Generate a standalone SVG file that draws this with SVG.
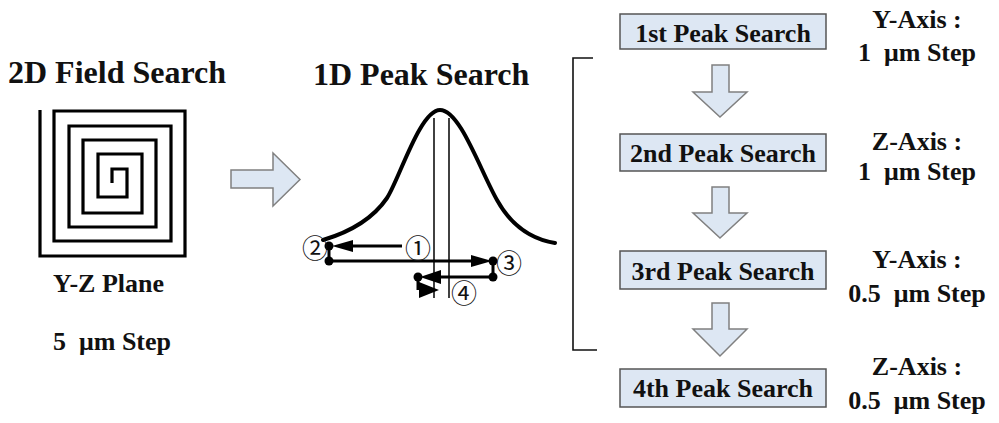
<svg xmlns="http://www.w3.org/2000/svg" width="999" height="423" viewBox="0 0 999 423">
<defs>
<style>
.t{font-family:"Liberation Serif","Times New Roman",serif;font-weight:bold;fill:#111;white-space:pre}
.title{font-size:32px}
.lbl{font-size:26px}
.box{fill:#dde7f3;stroke:#555;stroke-width:1.5}
.blk{fill:#dde7f3;stroke:#808080;stroke-width:1.5;stroke-linejoin:miter}
.ln{fill:none;stroke:#000;stroke-width:3}
.thin{fill:none;stroke:#111;stroke-width:1.6}
.num{font-family:"Noto Sans CJK JP","DejaVu Sans",sans-serif;font-size:26px;fill:#111}
</style>
</defs>
<rect width="999" height="423" fill="#fff"/>

<g id="field-search">
<text class="t title" x="8" y="83">2D Field Search</text>
<path fill="none" stroke="#000" stroke-width="3.2" d="M40,110 V256 H185 V111 H54 V241 H171 V126 H69 V227 H156 V140 H83 V213 H142 V154 H98 V197 H127 V169 H112 V183"/>
<text class="t lbl" x="53" y="292">Y-Z Plane</text>
<text class="t lbl" x="53" y="350">5  μm Step</text>
</g>

<g id="connectors">
<path class="blk" d="M231,170 H273 V153 L300,179.5 L273,206 V188 H231 Z"/>
<path class="blk" d="M712,65 H729 V92 H747 L720,117 L693,92 H712 Z"/>
<path class="blk" d="M712,187 H729 V213 H747 L720,238 L693,213 H712 Z"/>
<path class="blk" d="M712,303 H729 V329 H747 L720,356 L693,329 H712 Z"/>
<path class="thin" d="M593,58 H573 V350 H597"/>
</g>

<g id="peak-search">
<text class="t title" x="313" y="85">1D Peak Search</text>
<path fill="none" stroke="#000" stroke-width="4" stroke-linecap="round" d="M323,240 C350,232 372,220 387,198 C399,180 420,110 440,110 C460,110 480,170 497,200 C507,218 525,238 555,243"/>
<line class="thin" x1="434" y1="118" x2="434" y2="298"/>
<line class="thin" x1="449" y1="118" x2="449" y2="298"/>
<!-- step 1 -->
<line class="ln" x1="402" y1="246" x2="345" y2="246"/>
<polygon points="332,246 353,240 353,252" fill="#000"/>
<circle cx="329" cy="246" r="4.5" fill="#000"/>
<!-- step 2 -->
<line class="ln" x1="329" y1="246" x2="329" y2="261"/>
<circle cx="329" cy="261" r="4.5" fill="#000"/>
<line class="ln" x1="329" y1="261" x2="478" y2="261"/>
<polygon points="492,261 471,255 471,267" fill="#000"/>
<circle cx="493" cy="261" r="4.5" fill="#000"/>
<!-- step 3 -->
<line class="ln" x1="493" y1="261" x2="493" y2="277"/>
<circle cx="493" cy="277" r="4.5" fill="#000"/>
<line class="ln" x1="493" y1="277" x2="432" y2="277"/>
<polygon points="420,277 441,270 441,284" fill="#000"/>
<circle cx="418" cy="277" r="4.5" fill="#000"/>
<!-- step 4 -->
<line class="ln" x1="418" y1="277" x2="418" y2="290"/>
<polygon points="439,290 419,282 419,298" fill="#000"/>
<text class="num" x="315" y="246" text-anchor="middle" dominant-baseline="central">②</text>
<text class="num" x="418" y="246" text-anchor="middle" dominant-baseline="central">①</text>
<text class="num" x="509" y="261" text-anchor="middle" dominant-baseline="central">③</text>
<text class="num" x="464" y="291" text-anchor="middle" dominant-baseline="central">④</text>
</g>

<g id="peak1">
<rect class="box" x="620" y="14" width="206" height="35"/>
<text class="t lbl" x="723" y="42" text-anchor="middle">1st Peak Search</text>
</g>
<g id="peak2">
<rect class="box" x="620" y="134" width="206" height="37"/>
<text class="t lbl" x="723" y="162" text-anchor="middle">2nd Peak Search</text>
</g>
<g id="peak3">
<rect class="box" x="620" y="251" width="206" height="38"/>
<text class="t lbl" x="723" y="280" text-anchor="middle">3rd Peak Search</text>
</g>
<g id="peak4">
<rect class="box" x="620" y="369" width="206" height="38"/>
<text class="t lbl" x="723" y="397" text-anchor="middle">4th Peak Search</text>
</g>

<g id="step-labels">
<text class="t lbl" x="917" y="28" text-anchor="middle">Y-Axis :</text>
<text class="t lbl" x="917" y="61" text-anchor="middle">1  μm Step</text>
<text class="t lbl" x="917" y="150" text-anchor="middle">Z-Axis :</text>
<text class="t lbl" x="917" y="180" text-anchor="middle">1  μm Step</text>
<text class="t lbl" x="917" y="268" text-anchor="middle">Y-Axis :</text>
<text class="t lbl" x="917" y="302" text-anchor="middle">0.5  μm Step</text>
<text class="t lbl" x="917" y="375" text-anchor="middle">Z-Axis :</text>
<text class="t lbl" x="917" y="409" text-anchor="middle">0.5  μm Step</text>
</g>
</svg>
